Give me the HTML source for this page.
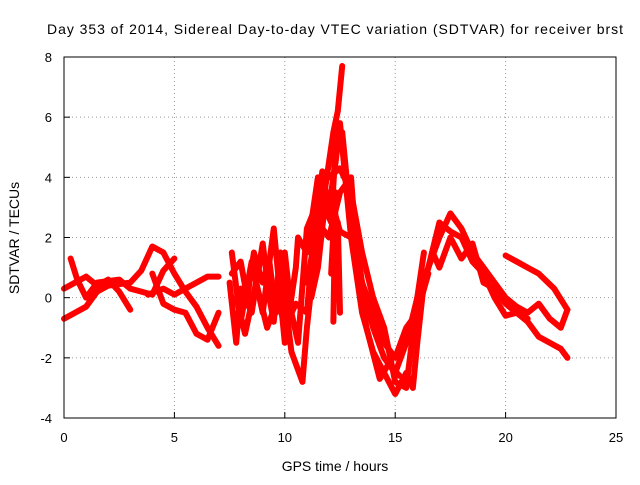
<!DOCTYPE html>
<html><head><meta charset="utf-8"><style>
body{margin:0;background:#fff}
svg text{font-family:"Liberation Sans",sans-serif;fill:#000}
</style></head><body>
<svg id="c" width="640" height="480" xmlns="http://www.w3.org/2000/svg">
<text x="335" y="34" font-size="14" text-anchor="middle" textLength="576">Day 353 of 2014, Sidereal Day-to-day VTEC variation (SDTVAR) for receiver brst</text>
<text x="335" y="471" font-size="14" text-anchor="middle">GPS time / hours</text>
<text transform="translate(19,238) rotate(-90)" font-size="14" text-anchor="middle">SDTVAR / TECUs</text>
<g id="grid"></g><g id="marks"></g>
<rect x="64" y="57" width="552" height="361" fill="none" stroke="#000"/>
</svg>
<script>
const xTicks=[0,5,10,15,20,25];
const yTicks=[-4,-2,0,2,4,6,8];
const trackA=[[0,0.3],[0.5,0.5],[1,0.7],[1.5,0.4],[2,0.6],[2.5,0.2],[3,-0.4]];
const trackB=[[0,-0.7],[0.5,-0.5],[1,-0.3],[1.5,0.2],[2,0.4],[3,0.5],[3.5,0.9],[4,1.7],[4.5,1.5],[5,0.8],[5.5,0.2],[6,-0.3],[6.5,-1.0],[7,-1.6]];
const trackC=[[0.3,1.3],[0.6,0.6],[1,0],[1.5,0.5],[2.5,0.6],[3,0.3],[3.5,0.2],[4,0.1],[4.5,0.9],[5,1.3]];
const trackD=[[3.8,0.1],[4.5,0.3],[5,0.1],[5.5,0.3],[6,0.5],[6.5,0.7],[7,0.7]];
const trackE=[[4,0.8],[4.5,-0.2],[5,-0.4],[5.5,-0.5],[6,-1.2],[6.5,-1.4],[7,-0.5]];
const trackF=[[7.5,0.5],[7.8,-1.5],[8,0.3],[8.5,-0.5],[9,1.8],[9.3,0],[9.5,-0.8],[9.8,1.5],[10,0],[10.3,-1.8],[10.8,-2.8],[11,-1],[11.3,1],[11.5,2.5],[11.8,3.5],[12,4.5],[12.2,5.5],[12.4,6.2],[12.6,7.7]];
const trackG=[[7.6,1.5],[8,-0.8],[8.5,1.2],[9,-0.5],[9.5,2.3],[10,-1.5],[10.5,1.0],[10.6,2.0],[11,1.5],[11.5,4],[12,3],[12.3,4.5],[12.5,5.8],[13,2],[13.5,-0.5],[14,-1.8],[14.5,-2.5],[15,-3.2],[15.5,-2.5],[15.8,-3.0],[16,-1.5],[16.3,0.5],[16.7,1.5],[17,1.0],[17.5,2.0],[18,1.3],[18.5,1.8],[19,0.5],[19.5,0.3],[20,-0.2],[20.5,-0.5],[21,-0.8],[21.5,-1.3],[22,-1.5],[22.5,-1.7],[22.8,-2]];
const trackH=[[11,0.5],[11.5,2.5],[12,2],[12.5,3.5],[13,4],[13.2,2],[13.5,0.5],[14,-1],[14.5,-2],[15,-2.5],[15.5,-1.5],[16,0],[16.5,1.0],[17,2],[17.5,2.8],[18,2.3],[18.5,1.5],[19,1.0],[19.5,0.5],[20,0],[20.5,-0.3],[21,-0.5],[21.5,-0.2],[22,-0.7],[22.5,-1],[22.8,-0.4]];
const trackI=[[20,1.4],[20.5,1.2],[21,1.0],[21.5,0.8],[22.2,0.3],[22.8,-0.4]];
const trackJ=[[16,-0.5],[16.5,1],[17,2.5],[17.5,2.2],[18,2],[18.5,1.2],[19,0.8],[19.5,0],[20,-0.6],[20.5,-0.5],[21,-0.7]];
const trackK=[[12.2,-0.8],[12.3,3.5],[12.1,0.8],[12.4,2.5],[12.5,-0.5]];
const trackL=[[7.6,0.8],[8,1.2],[8.3,0],[8.6,1.5],[9,0.5],[9.3,1.2],[9.6,-0.5],[10,1.5],[10.3,-0.5],[10.6,-1.5],[11,2.3],[11.5,3.2],[12,3.5],[12.5,2.2],[13,2],[13.5,0.5],[14,-0.5],[14.5,-1.5],[15,-2],[15.5,-1],[16,-0.5],[16.5,0.8]];
const trackM=[[7.8,0],[8.2,-1.2],[8.7,0.5],[9.2,-1],[9.7,0],[10,-1],[10.5,-0.2],[11,-0.5],[11.3,2],[11.7,4.2],[12,4],[12.5,4.3],[13,3.5],[13.5,1.5],[14,0],[14.5,-1],[15,-2.8],[15.5,-3],[16,0],[16.3,1.5]];
const trackN=[[11.2,0],[11.5,1],[11.8,3],[12.1,2.5],[12.3,5],[12.6,5.5],[13,2.5],[13.3,1],[13.7,-1],[14.3,-2.7],[14.7,-2.2],[15.2,-2.6]];
const tracks=[trackA,trackB,trackC,trackD,trackE,trackF,trackG,trackH,trackI,trackJ,trackK,trackL,trackM,trackN];
const X=v=>64+v*552/25, Y=v=>418-(v+4)*361/12;
const NS="http://www.w3.org/2000/svg";
const svg=document.getElementById('c'),grid=document.getElementById('grid'),marks=document.getElementById('marks');
function mk(tag,at,parent){const e=document.createElementNS(NS,tag);for(const k in at)e.setAttribute(k,at[k]);parent.appendChild(e);return e;}
xTicks.forEach(t=>{
 if(t>0&&t<25){const g=mk('line',{x1:X(t),x2:X(t),y1:57,y2:418,stroke:'#999','stroke-dasharray':'1,3'},grid);
 
 }
 const tk=mk('line',{x1:X(t),x2:X(t),y1:418,y2:412,stroke:'#000'},grid);
 
 
 const tx=mk('text',{x:X(t),y:442,'font-size':13,'text-anchor':'middle'},svg);tx.textContent=t;
 
 
});
yTicks.forEach(t=>{
 if(t>-4&&t<8){const g=mk('line',{x1:64,x2:616,y1:Y(t),y2:Y(t),stroke:'#999','stroke-dasharray':'1,3'},grid);
 
 }
 const tk=mk('line',{x1:64,x2:70,y1:Y(t),y2:Y(t),stroke:'#000'},grid);
 
 
 const tx=mk('text',{x:52,y:Y(t)+5,'font-size':13,'text-anchor':'end'},svg);tx.textContent=t;
 
 
});
tracks.forEach(tr=>{
 const p=mk('polyline',{points:tr.map(d=>X(d[0])+','+Y(d[1])).join(' '),fill:'none',stroke:'#f00','stroke-width':6,'stroke-linejoin':'round','stroke-linecap':'round'},marks);
 
 
});
</script>
</body></html>
